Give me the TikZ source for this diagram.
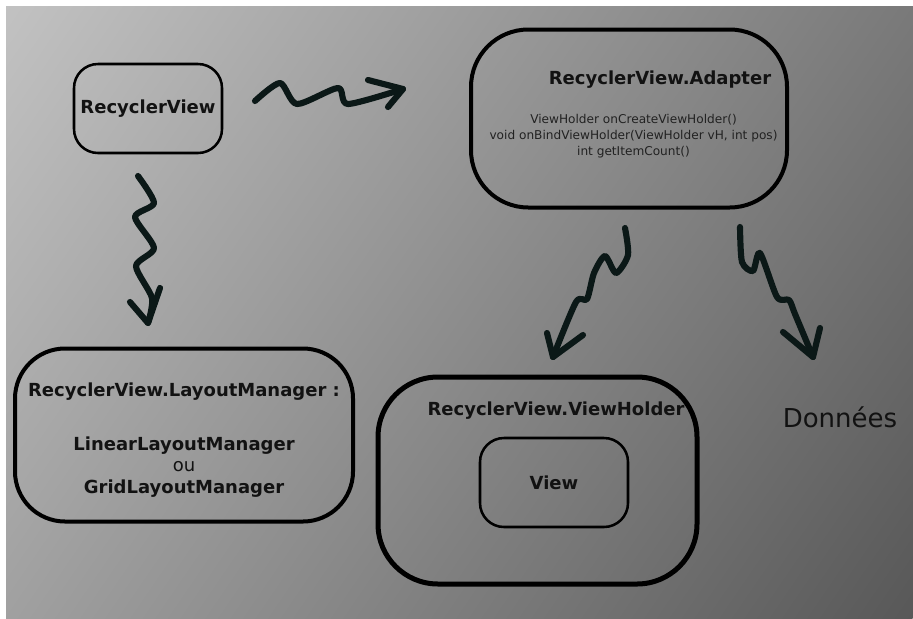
\documentclass[tikz,border=0pt]{standalone}
\usepackage{fontspec}
\setmainfont{DejaVu Sans}
\usetikzlibrary{calc}
\definecolor{ink}{HTML}{0B1817}
\definecolor{bgA}{gray}{0.76}
\definecolor{bgB}{gray}{0.345}
\definecolor{txt}{gray}{0.07}
\begin{document}
\begin{tikzpicture}[x=0.75pt,y=-0.75pt,
  box/.style={draw=black, rectangle, inner sep=0pt},
  brush/.style={draw=ink, line width=4.6pt, line cap=round, line join=round},
  titlef/.style={font=\fontsize{13.5}{16.1}\selectfont\bfseries, text=txt, inner sep=0pt},
  smallf/.style={font=\fontsize{9.1}{12}\selectfont, text=txt!85!gray, inner sep=0pt, align=center},
  bigf/.style={font=\fontsize{19.5}{23}\selectfont, text=txt, inner sep=0pt}]
\useasboundingbox (0,0) rectangle (913,618);
\fill[white] (0,0) rectangle (913,618);
\begin{scope}
  \clip (6,6) rectangle (913,618);
  \begin{scope}[transform canvas={rotate=-34.4}]
    \shade[left color=bgA, right color=bgB] (8.3,-640) rectangle (1102.7,640);
  \end{scope}
\end{scope}

% boxes
\node[box, line width=1.9pt, rounded corners=18pt, minimum width=111pt, minimum height=66.75pt,
      font=\fontsize{13.5}{16}\selectfont\bfseries, text=txt] (rv) at (148,108.5) {RecyclerView};
\node[box, line width=3pt, rounded corners=43pt, minimum width=237pt, minimum height=133.5pt] (ad) at (629,118.5) {};
\node[box, line width=3pt, rounded corners=37.5pt, minimum width=253.5pt, minimum height=129.75pt] (lm) at (184,435) {};
\node[box, line width=3.75pt, rounded corners=45pt, minimum width=239.25pt, minimum height=155.25pt] (vh) at (537.5,480.5) {};
\node[box, line width=1.9pt, rounded corners=18pt, minimum width=111pt, minimum height=66.75pt,
      font=\fontsize{13.5}{16}\selectfont\bfseries, text=txt] (v) at (554,482.5) {View};

% texts
\node[titlef] (adt) at (660,80) {RecyclerView.Adapter};
\node[smallf] (adm) at (633.5,136) {ViewHolder onCreateViewHolder()\\void onBindViewHolder(ViewHolder vH, int pos)\\int getItemCount()};
\node[titlef] (lmt) at (184,392) {RecyclerView.LayoutManager :};
\node[titlef, align=center] (lml) at (184,467) {LinearLayoutManager\\{\mdseries ou}\\GridLayoutManager};
\node[titlef] (vht) at (556,411) {RecyclerView.ViewHolder};
\node[bigf] (don) at (840,417) {Données};

% squiggly arrows
\coordinate (a1s) at (255,101);
\coordinate (a1t) at (403,89);
\coordinate (a1l) at (368,80);
\coordinate (a1r) at (388,107);
\draw[brush] plot[smooth, tension=0.45] coordinates {(a1s) (280,83) (297,104) (338,88) (348,104) (a1t)};
\draw[brush] (a1l) -- (a1t) -- (a1r);

\coordinate (a2s) at (138,176);
\coordinate (a2t) at (148,323);
\coordinate (a2l) at (130,302);
\coordinate (a2r) at (160,288);
\draw[brush] plot[smooth, tension=0.45] coordinates {(a2s) (154,203) (135,217) (154,248) (136,266) (152,298) (a2t)};
\draw[brush] (a2l) -- (a2t) -- (a2r);

\coordinate (a3s) at (625,228);
\coordinate (a3t) at (553,357);
\coordinate (a3l) at (547,333);
\coordinate (a3r) at (583,335);
\draw[brush] plot[smooth, tension=0.45] coordinates {(a3s) (628,255) (616,273) (605,256) (594,273) (587,299) (576,302) (a3t)};
\draw[brush] (a3l) -- (a3t) -- (a3r);

\coordinate (a4s) at (740,227);
\coordinate (a4t) at (813,357);
\coordinate (a4l) at (783,332);
\coordinate (a4r) at (820,328);
\draw[brush] plot[smooth, tension=0.45] coordinates {(a4s) (742,262) (753,271) (760,253) (777,297) (789,300) (795,314) (a4t)};
\draw[brush] (a4l) -- (a4t) -- (a4r);
\end{tikzpicture}
\end{document}
